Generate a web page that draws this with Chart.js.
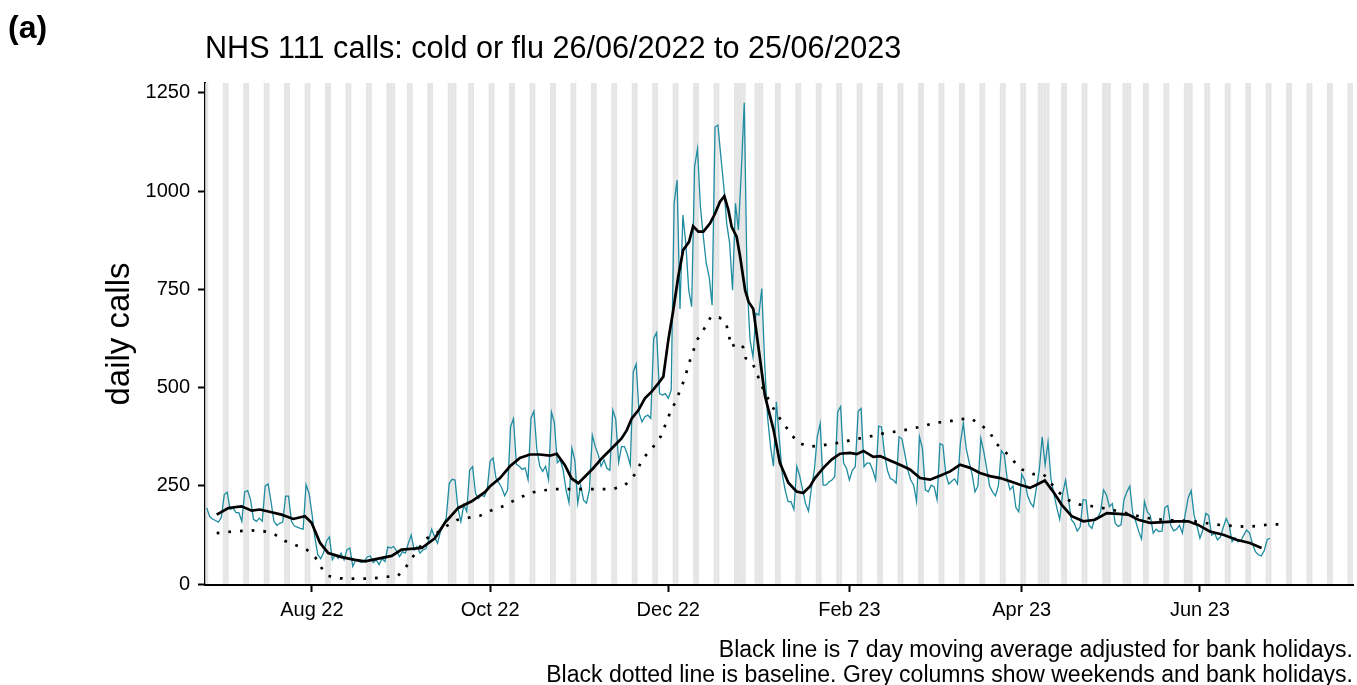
<!DOCTYPE html>
<html><head><meta charset="utf-8">
<script src="https://cdn.jsdelivr.net/npm/chart.js@4.4.0/dist/chart.umd.min.js"></script>
<style>
html,body{margin:0;padding:0;background:#fff;}
#wrap{position:relative;width:1357px;height:685px;}
#panel{position:absolute;left:8px;top:11px;font:bold 32px "Liberation Sans",Arial,sans-serif;line-height:1;color:#000;}
canvas{position:absolute;left:0;top:0;}
</style></head><body>
<div id="wrap"><canvas id="c" width="1357" height="685"></canvas><div id="panel">(a)</div></div>
<script>
// Day 0 = Sunday 26/06/2022
const TITLE = 'NHS 111 calls: cold or flu 26/06/2022 to 25/06/2023';
const Y_TITLE = 'daily calls';
const CAPTION = ['Black line is 7 day moving average adjusted for bank holidays.',
                 'Black dotted line is baseline. Grey columns show weekends and bank holidays.'];
const tickDays = [36, 97, 158, 220, 279, 340];
const tickLabels = ['Aug 22', 'Oct 22', 'Dec 22', 'Feb 23', 'Apr 23', 'Jun 23'];
const yTicks = [0, 250, 500, 750, 1000, 1250];
const bankHolidays = [64, 85, 183, 184, 190, 285, 288, 309, 316, 337];

const dailyCalls = [
 194,172,166,162,158,170,228,
 234,190,194,182,182,160,235,
 238,215,165,160,168,160,250,
 255,210,160,150,155,158,224,
 224,160,148,145,142,140,253,
 232,180,120,75,65,80,110,
 120,62,75,66,79,62,88,
 92,45,62,58,55,60,70,
 72,55,62,50,65,58,95,
 92,96,85,70,83,79,104,
 125,87,96,79,87,90,113,
 140,121,104,134,150,170,256,
 267,265,193,159,202,185,290,
 299,231,218,227,223,240,313,
 321,270,258,245,225,240,400,
 421,305,300,292,296,266,423,
 440,343,300,287,300,266,438,
 411,309,317,290,240,207,346,
 316,206,252,214,206,240,379,
 350,330,300,316,295,290,443,
 420,310,350,350,330,303,540,
 560,435,413,426,430,422,625,
 640,485,481,485,473,494,969,
 1028,700,939,867,748,706,1062,
 1108,960,884,816,782,710,1163,
 1168,1087,1011,918,867,748,969,
 901,1050,1225,760,621,578,689,
 685,752,560,424,350,300,464,
 370,280,240,210,210,190,300,
 275,240,205,186,245,290,375,
 409,252,252,260,265,274,439,
 452,308,295,265,290,299,440,
 447,299,308,308,290,265,402,
 400,333,290,269,265,257,375,
 370,330,290,265,252,210,375,
 345,240,235,252,248,215,358,
 354,280,255,262,268,255,360,
 409,345,310,280,235,250,371,
 337,295,250,235,225,250,340,
 330,268,240,250,195,184,280,
 265,225,207,197,244,290,375,
 303,362,268,230,195,165,230,
 265,215,164,155,135,146,215,
 214,150,142,168,170,184,240,
 227,197,205,155,147,151,215,
 235,250,180,160,135,115,210,
 184,175,130,140,134,135,195,
 200,150,136,140,150,130,180,
 220,238,175,148,117,138,180,
 175,125,130,113,120,145,167,
 150,108,118,108,110,125,138,
 130,102,83,75,72,85,113,
 117
];

const maDays = [3.4,7.4,11.9,15.4,18.2,22.2,25.6,29.6,33.6,35.9,38.8,41.6,46.2,50.7,54.2,58.7,63.3,66.7,73.6,78.1,81.5,86.1,90.7,95.2,97,100.4,103.8,107.2,110.6,114,117.5,119.8,122.6,124.9,127.2,129.5,132.3,135.2,137.5,140.3,142,143.8,145.5,147.8,150,152.3,154.6,156.3,158,159.7,161.4,163.1,165.1,166.5,168.3,170,172.3,174,175.7,177.2,178.6,179.7,181.4,182.6,184.3,185.5,187.1,188.8,191.1,194,196.2,199.1,201.9,204.2,206.5,208.2,211.1,213.9,216.8,220.2,222.5,224.8,228.2,230.5,233.9,237.3,240.7,244.2,247.6,251,254.5,257.9,261.3,264.7,268.1,271.6,275,278.4,281.8,284.1,286.9,289.8,292.7,296.1,300.1,304.1,308.1,312.1,315.5,318.9,322.9,327.5,332,336,339.4,343.4,348,352.5,357.1,361.1];
const maValues = [177,194,198,187,190,183,177,166,173,156,105,79,69,62,58,65,72,88,92,117,156,194,211,234,249,270,300,321,330,330,327,332,303,269,257,274,295,320,337,358,371,392,422,443,473,490,511,528,621,697,782,850,871,911,897,897,918,943,973,987,951,909,884,833,748,718,700,606,479,394,309,258,236,232,249,270,296,317,332,334,331,339,324,326,315,304,292,270,266,276,287,304,296,283,275,270,262,253,245,253,264,235,202,173,160,164,181,179,177,164,156,158,160,160,151,134,126,113,105,92];

const baselineDays = [3.4,7.4,11.4,15.4,19.4,23.4,26.8,30.2,34.2,37.1,39.1,41.6,45.6,49.3,53.4,57.2,61.5,65.4,68.1,70.4,74.9,78.7,82.3,85.9,89.5,93.5,97.2,101,104.4,108,111.8,115.5,119.4,123.2,127.6,131.5,135.3,139,143,146,149.5,152.6,155.5,158.6,160.6,163.5,165.7,168,170.9,172.6,175.4,177.7,178.8,179.4,182,183.6,184.5,186.5,188.2,189.4,193,195.1,197.4,199.7,202.2,206,210,213.6,217.7,221.6,225.7,229.6,233.6,237.6,241.4,245.3,249.3,253.3,257.3,261.3,264.7,268.1,270.2,273.3,276.1,279,283,286.4,291.5,295,298.6,302.6,306.7,310.1,314,318,320.6,324.6,329,333,336,339.8,343.8,347.8,351.8,355.8,359.8,363.6,367.4];
const baselineValues = [130,133,135,137,135,126,110,100,88,69,43,21,15,14,14,15,19,21,43,68,115,130,149,164,169,174,187,197,210,223,234,239,242,242,242,242,242,242,251,273,321,347,377,436,466,521,576,623,657,681,679,666,634,604,614,603,575,566,541,513,460,433,409,386,361,350,352,357,361,369,373,381,386,390,396,402,411,413,419,422,408,386,358,337,314,292,280,280,235,214,203,199,194,189,182,175,170,166,163,162,161,159,153,150,148,146,148,152,152];

const X_MIN = -0.6, X_MAX = 392.4, Y_MIN = -2, Y_MAX = 1275;
const FONT = '"Liberation Sans", Arial, sans-serif';

// grey columns: weekends (Sat/Sun) and bank holidays
const greyDays = [];
for (let d = -1; d <= 393; d++) {
  const dow = ((d % 7) + 7) % 7; // 0 = Sunday
  if (dow === 0 || dow === 6 || bankHolidays.includes(d)) greyDays.push(d);
}

Chart.defaults.font.family = FONT;
Chart.defaults.color = '#000';

new Chart(document.getElementById('c'), {
  type: 'line',
  data: {
    datasets: [
      { type: 'bar', label: 'Weekends and bank holidays',
        data: greyDays.map(d => ({ x: d, y: [0, Y_MAX] })),
        backgroundColor: '#e5e5e5', borderWidth: 0, inflateAmount: 0,
        barPercentage: 1, categoryPercentage: 1, grouped: false, order: 10 },
      { label: 'Daily calls', data: dailyCalls.map((v, i) => ({ x: i, y: v })),
        borderColor: '#1f8ca0', borderWidth: 1.3, pointRadius: 0, tension: 0, order: 3 },
      { label: 'Baseline', data: baselineDays.map((d, i) => ({ x: d, y: baselineValues[i] })),
        borderColor: '#000', borderWidth: 2.7, borderDash: [2.7, 9], borderCapStyle: 'butt',
        pointRadius: 0, tension: 0, order: 2 },
      { label: '7 day moving average', data: maDays.map((d, i) => ({ x: d, y: maValues[i] })),
        borderColor: '#000', borderWidth: 2.7, pointRadius: 0, tension: 0, order: 1 }
    ]
  },
  options: {
    responsive: false, animation: false, devicePixelRatio: 1, events: [],
    layout: { padding: { left: 0, right: 4, top: 0, bottom: 0 } },
    plugins: {
      legend: { display: false }, tooltip: { enabled: false },
      title: { display: true, text: TITLE, align: 'start', fullSize: false, color: '#000',
        font: { family: FONT, size: 30.6, weight: 'normal', lineHeight: 1.2 },
        padding: { top: 31, bottom: 15.3 } },
      subtitle: { display: true, text: CAPTION, position: 'bottom', align: 'end', fullSize: false,
        color: '#000', font: { family: FONT, size: 23, weight: 'normal', lineHeight: 25 / 23 },
        padding: { top: 13.5, bottom: -3.5 } }
    },
    scales: {
      x: { type: 'linear', min: X_MIN, max: X_MAX, offset: false,
        afterBuildTicks: s => { s.ticks = tickDays.map(v => ({ value: v })); },
        afterFit: s => { s.height = 40; },
        ticks: { callback: (v, i) => tickLabels[i], color: '#000', font: { size: 20 }, padding: 6,
          maxRotation: 0, autoSkip: false },
        grid: { offset: false, drawOnChartArea: false, drawTicks: true, tickLength: 7, tickWidth: 2, tickColor: '#000' },
        border: { display: true, color: '#000', width: 2 } },
      y: { type: 'linear', min: Y_MIN, max: Y_MAX,
        afterBuildTicks: s => { s.ticks = yTicks.map(v => ({ value: v })); },
        afterFit: s => { s.width = 205; },
        ticks: { callback: v => String(v), color: '#000', font: { size: 20 }, padding: 8 },
        grid: { offset: false, drawOnChartArea: false, drawTicks: true, tickLength: 7, tickWidth: 2, tickColor: '#000' },
        border: { display: true, color: '#000', width: 2 },
        title: { display: true, text: Y_TITLE, color: '#000', font: { size: 33 }, padding: { top: 100, bottom: 0 } } }
    }
  }
});
</script>
</body></html>
